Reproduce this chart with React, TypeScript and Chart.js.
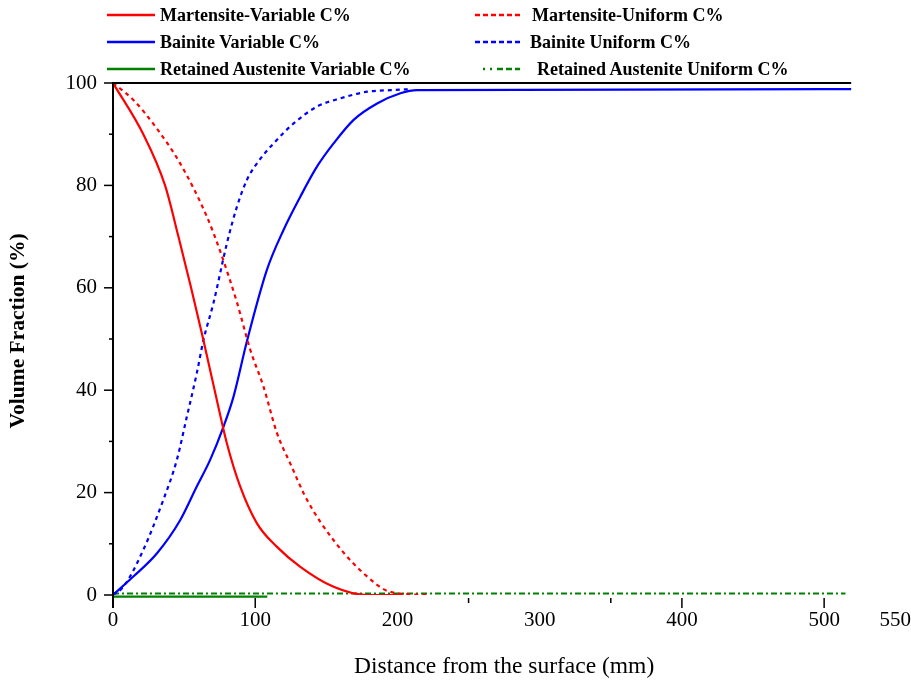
import React, { useEffect, useRef } from 'react';
import { Chart, registerables } from 'chart.js';

Chart.register(...registerables);

// ---- data (distance mm, volume fraction %) ----
const martensiteVarX = [0, 21.3, 36.6, 46.0, 54.9, 63.4, 73.0, 80.1, 89.4, 101.2, 115.3, 131.7, 155.1, 178.7, 204.2];
const martensiteVarY = [100, 90.0, 80.0, 70.0, 60.0, 50.0, 38.1, 29.6, 21.2, 14.0, 9.4, 5.5, 1.6, 0.0, 0.0];

const martensiteUniX = [0, 14.3, 30.8, 47.2, 66.0, 75.4, 87.1, 96.5, 105.8, 115.3, 124.6, 136.4, 155.1, 176.3, 195.1, 220.9];
const martensiteUniY = [100, 96.7, 91.1, 84.3, 73.9, 67.1, 57.2, 47.9, 40.7, 31.6, 25.7, 18.6, 10.7, 4.2, 0.6, 0.0];

const bainiteVarX = [0, 14.3, 30.8, 47.2, 58.9, 68.3, 77.7, 84.7, 94.2, 108.2, 119.9, 131.7, 143.5, 155.1, 169.2, 185.7, 202.1, 213.9, 519];
const bainiteVarY = [0, 3.6, 8.1, 14.6, 21.2, 26.4, 32.9, 38.7, 49.6, 63.5, 71.3, 77.8, 83.7, 88.2, 92.8, 96.0, 98.0, 98.6, 98.8];

const bainiteUniX = [0, 7.3, 21.3, 35.4, 44.9, 51.9, 58.9, 63.6, 70.6, 80.1, 87.1, 94.2, 101.2, 112.9, 127.0, 143.5, 159.9, 178.7, 195.1, 209.2];
const bainiteUniY = [0, 1.6, 8.8, 18.6, 26.4, 34.8, 43.3, 49.8, 57.0, 68.7, 75.8, 81.1, 84.3, 88.2, 92.1, 95.4, 97.0, 98.3, 98.6, 98.8];

const austeniteVarX = [0, 108.5];
const austeniteVarY = [-0.3, -0.3];

const austeniteUniX = [0, 515];
const austeniteUniY = [0.3, 0.3];

const xTickLabels = [0, 100, 200, 300, 400, 500, 550];
const yTickLabels = [0, 20, 40, 60, 80, 100];
const xMajorMarks = [100, 400, 500];
const xMinorMarks = [250, 350];
const yMajorMarks = [0, 20, 40, 60, 80, 100];
const yMinorMarks = [10, 30, 50, 70, 90];
const frameTopEnd = 519;

const seriesNames = [
  'Martensite-Variable C%',
  'Martensite-Uniform C%',
  'Bainite Variable C%',
  'Bainite Uniform C%',
  'Retained Austenite Variable C%',
  'Retained Austenite Uniform C%',
];

const RED = '#ff0000';
const BLUE = '#0000ff';
const GREEN = '#008000';
const FONT = "'Liberation Serif', 'Times New Roman', serif";

const pts = (xs: number[], ys: number[]) => xs.map((x, i) => ({ x, y: ys[i] }));

const framePlugin = {
  id: 'frame',
  afterDraw(chart: any) {
    const { ctx, chartArea, scales } = chart;
    const xs = scales.x;
    const ys = scales.y;
    ctx.save();
    ctx.strokeStyle = '#000';
    ctx.lineWidth = 2;
    ctx.beginPath();
    ctx.moveTo(chartArea.left, chartArea.top);
    ctx.lineTo(chartArea.left, chartArea.bottom + 13);
    ctx.stroke();
    ctx.beginPath();
    ctx.moveTo(chartArea.left - 1, chartArea.top);
    ctx.lineTo(xs.getPixelForValue(frameTopEnd), chartArea.top);
    ctx.stroke();
    ctx.lineWidth = 1.5;
    yMajorMarks.forEach((v) => {
      const p = ys.getPixelForValue(v);
      ctx.beginPath();
      ctx.moveTo(chartArea.left - 9, p);
      ctx.lineTo(chartArea.left, p);
      ctx.stroke();
    });
    yMinorMarks.forEach((v) => {
      const p = ys.getPixelForValue(v);
      ctx.beginPath();
      ctx.moveTo(chartArea.left - 4, p);
      ctx.lineTo(chartArea.left, p);
      ctx.stroke();
    });
    xMajorMarks.forEach((v) => {
      const p = xs.getPixelForValue(v);
      ctx.beginPath();
      ctx.moveTo(p, chartArea.bottom + 3);
      ctx.lineTo(p, chartArea.bottom + 13);
      ctx.stroke();
    });
    xMinorMarks.forEach((v) => {
      const p = xs.getPixelForValue(v);
      ctx.beginPath();
      ctx.moveTo(p, chartArea.bottom + 3);
      ctx.lineTo(p, chartArea.bottom + 8);
      ctx.stroke();
    });
    ctx.restore();
  },
};

const legendItems = [
  { name: seriesNames[0], color: RED, dash: '', left: 107, lineW: 48, textLeft: 160, top: 15 },
  { name: seriesNames[1], color: RED, dash: '5 3', left: 475, lineW: 45, textLeft: 532, top: 15 },
  { name: seriesNames[2], color: BLUE, dash: '', left: 107, lineW: 48, textLeft: 160, top: 42 },
  { name: seriesNames[3], color: BLUE, dash: '5 3', left: 475, lineW: 45, textLeft: 530, top: 42 },
  { name: seriesNames[4], color: GREEN, dash: '', left: 107, lineW: 48, textLeft: 160, top: 69 },
  { name: seriesNames[5], color: GREEN, dash: '2 5 2 5 6 3 6 3 6', left: 483, lineW: 37, textLeft: 537, top: 69 },
];

export default function App() {
  const canvasRef = useRef<HTMLCanvasElement | null>(null);

  useEffect(() => {
    if (!canvasRef.current) return;
    const common = { pointRadius: 0, borderWidth: 2.2, fill: false, cubicInterpolationMode: 'monotone' as const };
    const chart = new Chart(canvasRef.current, {
      type: 'line',
      data: {
        datasets: [
          { label: seriesNames[0], data: pts(martensiteVarX, martensiteVarY), borderColor: RED, ...common },
          { label: seriesNames[1], data: pts(martensiteUniX, martensiteUniY), borderColor: RED, borderDash: [4, 4], ...common },
          { label: seriesNames[2], data: pts(bainiteVarX, bainiteVarY), borderColor: BLUE, ...common },
          { label: seriesNames[3], data: pts(bainiteUniX, bainiteUniY), borderColor: BLUE, borderDash: [4, 4], ...common },
          { label: seriesNames[4], data: pts(austeniteVarX, austeniteVarY), borderColor: GREEN, ...common, clip: 6 },
          { label: seriesNames[5], data: pts(austeniteUniX, austeniteUniY), borderColor: GREEN, borderDash: [6, 3, 2, 3], ...common, borderWidth: 2, clip: 6 },
        ],
      },
      options: {
        animation: false,
        responsive: false,
        layout: { padding: { left: 0, top: 83, right: 1, bottom: 0 } },
        plugins: { legend: { display: false }, tooltip: { enabled: false } },
        scales: {
          x: {
            type: 'linear',
            min: 0,
            max: 550,
            grid: {
              display: true,
              drawOnChartArea: false,
              drawTicks: true,
              tickLength: 13,
              color: 'rgba(0,0,0,0)',
              tickColor: 'rgba(0,0,0,0)',
            },
            border: { display: false },
            afterBuildTicks: (scale: any) => {
              scale.ticks = xTickLabels.map((v) => ({ value: v }));
            },
            afterFit: (scale: any) => {
              scale.height = 88;
            },
            ticks: {
              autoSkip: false,
              maxRotation: 0,
              padding: 0,
              color: '#000',
              font: { family: FONT, size: 21 },
              callback: (v: any) => String(v),
            },
            title: {
              display: true,
              text: 'Distance from the surface (mm)',
              color: '#000',
              font: { family: FONT, size: 23.5 },
              padding: { top: 4, bottom: 2 },
            },
          },
          y: {
            type: 'linear',
            min: 0,
            max: 100,
            grid: { display: false, drawTicks: false },
            border: { display: false },
            afterBuildTicks: (scale: any) => {
              scale.ticks = yTickLabels.map((v) => ({ value: v }));
            },
            afterFit: (scale: any) => {
              scale.width = 113;
            },
            ticks: {
              padding: 16,
              color: '#000',
              font: { family: FONT, size: 21 },
              callback: (v: any) => String(v),
            },
            title: {
              display: true,
              text: '\u00A0\u00A0\u00A0Volume Fraction (%)',
              color: '#000',
              font: { family: FONT, size: 21.5, weight: 'bold' },
              padding: { top: 6, bottom: 0 },
            },
          },
        },
      },
      plugins: [framePlugin],
    });
    return () => chart.destroy();
  }, []);

  return (
    <div style={{ position: 'absolute', left: 0, top: 0, width: 911, height: 683, background: '#fff' }}>
      <canvas ref={canvasRef} width={911} height={683} style={{ position: 'absolute', left: 0, top: 0 }} />
      {legendItems.map((it) => (
        <React.Fragment key={it.name}>
          <svg
            width={it.lineW}
            height={6}
            style={{ position: 'absolute', left: it.left, top: it.top - 3 }}
          >
            <line
              x1={0}
              y1={3}
              x2={it.lineW}
              y2={3}
              stroke={it.color}
              strokeWidth={2.5}
              strokeDasharray={it.dash || undefined}
            />
          </svg>
          <div
            style={{
              position: 'absolute',
              left: it.textLeft,
              top: it.top - 11,
              height: 22,
              lineHeight: '22px',
              fontFamily: FONT,
              fontSize: 18,
              fontWeight: 'bold',
              color: '#000',
              whiteSpace: 'nowrap',
            }}
          >
            {it.name}
          </div>
        </React.Fragment>
      ))}
    </div>
  );
}
